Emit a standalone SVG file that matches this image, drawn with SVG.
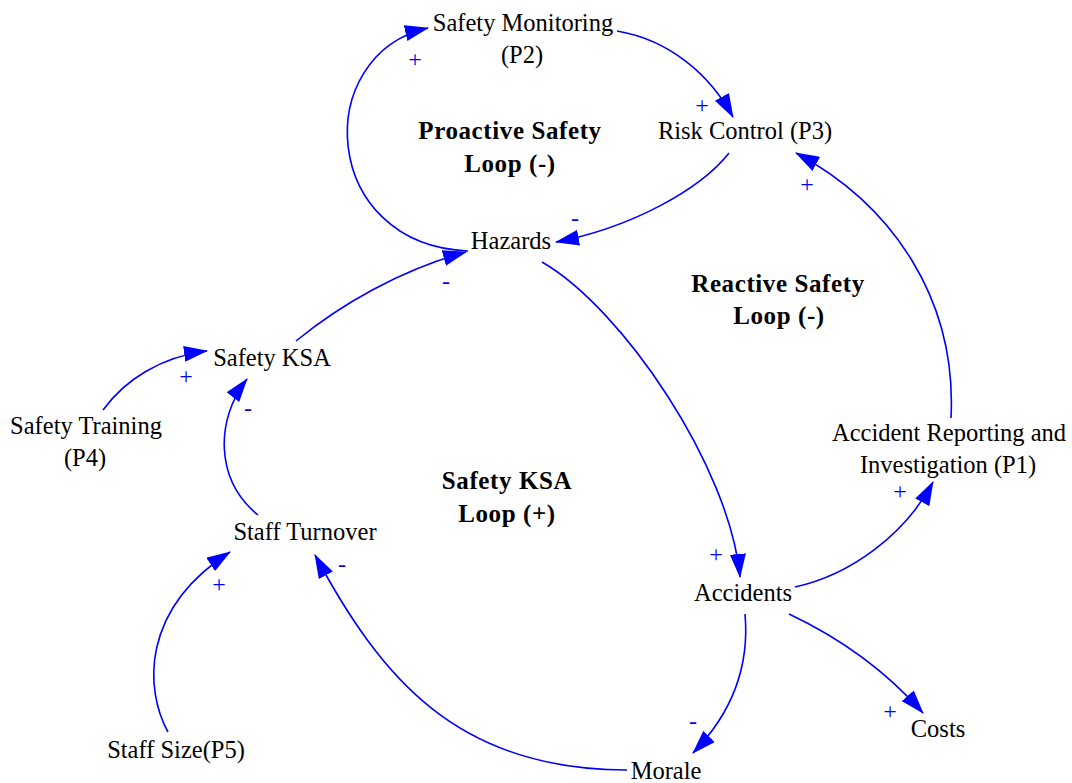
<svg xmlns="http://www.w3.org/2000/svg" width="1072" height="783" viewBox="0 0 1072 783">
<style>
.n{font-family:"Liberation Serif","Times New Roman",serif;font-size:24.5px;fill:#000;text-anchor:middle}
.b{font-family:"Liberation Serif","Times New Roman",serif;font-size:25px;font-weight:bold;fill:#000;text-anchor:middle;letter-spacing:0.6px}
.l{font-family:"Liberation Serif","Times New Roman",serif;font-size:24px;fill:#0000FF;text-anchor:middle}
.c{fill:none;stroke:#0000FF;stroke-width:1.6}
</style>
<defs>
<marker id="ah" markerUnits="userSpaceOnUse" markerWidth="24" markerHeight="16" viewBox="0 0 24 16" refX="23" refY="8" orient="auto">
<path d="M0,0 L24,8 L0,16 z" fill="#0000FF"/>
</marker>
</defs>
<rect width="1072" height="783" fill="#fff"/>
<g id="connectors">
<path class="c" marker-end="url(#ah)" d="M468,251 C320,245 310,55 428,28"/>
<path class="c" marker-end="url(#ah)" d="M617,31 C670,40 710,75 733,117"/>
<path class="c" marker-end="url(#ah)" d="M729,153 C700,190 630,228 556,242"/>
<path class="c" marker-end="url(#ah)" d="M542,262 C622,308 730,467 740,577"/>
<path class="c" marker-end="url(#ah)" d="M795,587 C850,575 905,535 933,482"/>
<path class="c" marker-end="url(#ah)" d="M951,418 C957,300 893,205 796,153"/>
<path class="c" marker-end="url(#ah)" d="M296,341 C340,305 400,270 466,252"/>
<path class="c" marker-end="url(#ah)" d="M103,410 C125,380 160,357 207,351"/>
<path class="c" marker-end="url(#ah)" d="M258,515 C215,480 215,420 247,379"/>
<path class="c" marker-end="url(#ah)" d="M168,732 C145,690 140,610 230,552"/>
<path class="c" marker-end="url(#ah)" d="M627,770 C457,770 381,678 315,555"/>
<path class="c" marker-end="url(#ah)" d="M745,614 C750,670 730,715 693,753"/>
<path class="c" marker-end="url(#ah)" d="M789,614 C840,638 885,670 923,713"/>
<text class="l" x="415" y="67">+</text>
<text class="l" x="702" y="113">+</text>
<text class="l" x="575" y="226">-</text>
<text class="l" x="716" y="562">+</text>
<text class="l" x="900" y="499">+</text>
<text class="l" x="807" y="192">+</text>
<text class="l" x="446" y="289">-</text>
<text class="l" x="186" y="384">+</text>
<text class="l" x="248" y="416">-</text>
<text class="l" x="219" y="592">+</text>
<text class="l" x="342" y="572">-</text>
<text class="l" x="693" y="729">-</text>
<text class="l" x="890" y="719">+</text>
</g>
<g id="safety-monitoring"><text class="n" x="523" y="31">Safety Monitoring</text><text class="n" x="522" y="63">(P2)</text></g>
<g id="risk-control"><text class="n" x="745" y="139">Risk Control (P3)</text></g>
<g id="hazards"><text class="n" x="511" y="249">Hazards</text></g>
<g id="accident-reporting"><text class="n" x="949" y="441">Accident Reporting and</text><text class="n" x="948" y="473">Investigation (P1)</text></g>
<g id="accidents"><text class="n" x="743" y="601">Accidents</text></g>
<g id="costs"><text class="n" x="938" y="737">Costs</text></g>
<g id="morale"><text class="n" x="666" y="779">Morale</text></g>
<g id="staff-size"><text class="n" x="176" y="758">Staff Size(P5)</text></g>
<g id="staff-turnover"><text class="n" x="305" y="540">Staff Turnover</text></g>
<g id="safety-ksa"><text class="n" x="272" y="366">Safety KSA</text></g>
<g id="safety-training"><text class="n" x="86" y="434">Safety Training</text><text class="n" x="85" y="466">(P4)</text></g>
<g id="loop-proactive"><text class="b" x="510" y="139">Proactive Safety</text><text class="b" x="510" y="172">Loop (-)</text></g>
<g id="loop-reactive"><text class="b" x="778" y="292">Reactive Safety</text><text class="b" x="779" y="324">Loop (-)</text></g>
<g id="loop-ksa"><text class="b" x="507" y="489">Safety KSA</text><text class="b" x="507" y="522">Loop (+)</text></g>
</svg>
